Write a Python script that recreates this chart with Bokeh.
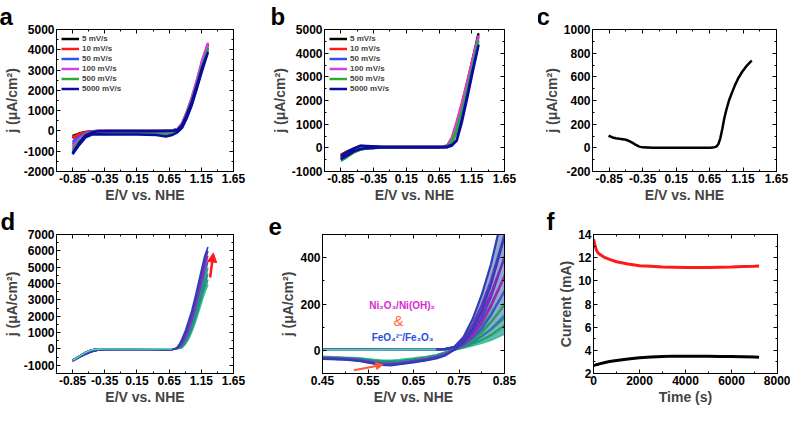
from bokeh.plotting import figure
from bokeh.layouts import row, column
from bokeh.models import (Range1d, FixedTicker, LinearAxis, Legend, LegendItem, Label,
                          Arrow, NormalHead, CustomJSTickFormatter)
from bokeh.embed import file_html
from bokeh.resources import INLINE

FONT = "Liberation Sans"

# ---------------- data ----------------
# panels a, b : CV loops at several scan rates (forward / reverse sampled on E_grid)
E_grid = [-0.85, -0.75, -0.65, -0.55, -0.45, -0.25, 0.15, 0.45, 0.6, 0.7, 0.78, 0.85, 0.92, 1.0, 1.08, 1.16, 1.25]
rates = ["5 mV/s", "10 mV/s", "50 mV/s", "100 mV/s", "500 mV/s", "5000 mV/s"]
rate_colors = ["#000000", "#ff1a1a", "#3050f0", "#d040e8", "#2fa83a", "#0a0aa0"]

a_fwd = [
    [-250, -130, -50, -10, 0, 10, 10, 10, 15, 25, 80, 330, 850, 1550, 2400, 3350, 4250],
    [-300, -150, -60, -15, 0, 10, 10, 10, 15, 25, 90, 360, 880, 1600, 2450, 3400, 4250],
    [-550, -300, -120, -30, 0, 10, 10, 10, 15, 25, 80, 320, 820, 1500, 2350, 3250, 4050],
    [-750, -400, -150, -40, 0, 10, 10, 10, 15, 25, 90, 370, 900, 1630, 2500, 3450, 4300],
    [-950, -500, -180, -50, -10, 0, 0, 0, 5, 15, 60, 300, 800, 1480, 2300, 3200, 4000],
    [-1100, -600, -220, -70, -20, -10, -10, -10, 0, 10, 50, 280, 760, 1420, 2230, 3100, 3850],
]
a_rev = [
    [-330, -170, -80, -40, -30, -40, -40, -40, -50, -40, 20, 250, 750, 1450, 2300, 3250, 4250],
    [-380, -200, -100, -60, -50, -60, -60, -60, -70, -60, 10, 260, 760, 1450, 2300, 3270, 4250],
    [-650, -380, -180, -100, -90, -100, -100, -110, -120, -100, -10, 220, 700, 1380, 2200, 3120, 4050],
    [-850, -480, -220, -110, -100, -110, -110, -120, -130, -110, -10, 250, 760, 1450, 2320, 3300, 4300],
    [-1050, -600, -270, -140, -130, -140, -140, -150, -160, -140, -40, 180, 650, 1300, 2150, 3050, 4000],
    [-1150, -700, -320, -180, -160, -170, -170, -200, -270, -200, -60, 150, 600, 1250, 2080, 2950, 3850],
]
b_fwd = [
    [-300, -150, -20, 80, 70, 40, 30, 30, 30, 35, 80, 380, 950, 1750, 2700, 3700, 4800],
    [-320, -170, -40, 60, 60, 40, 30, 30, 30, 40, 110, 450, 1100, 1900, 2800, 3700, 4650],
    [-400, -220, -60, 50, 60, 40, 30, 30, 30, 35, 70, 320, 850, 1600, 2500, 3400, 4350],
    [-420, -230, -60, 50, 60, 40, 30, 30, 30, 40, 100, 420, 1050, 1850, 2750, 3700, 4700],
    [-450, -250, -70, 40, 55, 40, 30, 30, 30, 35, 60, 300, 800, 1550, 2450, 3450, 4500],
    [-350, -180, -30, 90, 80, 45, 35, 30, 30, 35, 60, 130, 330, 1200, 2200, 3250, 4300],
]
b_rev = [
    [-380, -250, -120, -40, -10, 10, 15, 15, 15, 20, 40, 250, 800, 1600, 2550, 3600, 4800],
    [-420, -280, -140, -50, -15, 10, 15, 15, 15, 20, 60, 320, 900, 1700, 2650, 3600, 4650],
    [-500, -330, -170, -60, -20, 10, 15, 15, 15, 20, 40, 220, 700, 1450, 2350, 3300, 4350],
    [-520, -350, -180, -60, -20, 10, 15, 15, 15, 20, 55, 300, 880, 1680, 2600, 3550, 4700],
    [-550, -380, -190, -70, -25, 5, 15, 15, 15, 20, 35, 200, 680, 1420, 2300, 3350, 4500],
    [-480, -320, -150, -50, -15, 10, 15, 15, 15, 20, 30, 100, 300, 1100, 2100, 3150, 4300],
]

# panel c : single LSV curve
E_c = [-0.86, -0.8, -0.75, -0.7, -0.65, -0.6, -0.55, -0.5, -0.45, -0.4, -0.35, -0.2, 0.15, 0.45,
       0.65, 0.7, 0.75, 0.78, 0.81, 0.84, 0.87, 0.9, 0.94, 0.98, 1.03, 1.08, 1.14, 1.2, 1.25, 1.28]
j_c = [102, 88, 81, 76, 72, 68, 57, 42, 24, 10, 4, 0, 0, 0,
       1, 2, 10, 30, 80, 160, 250, 320, 400, 460, 530, 590, 645, 690, 720, 738]

# panels d, e : repeated cycles
E_lo_fwd = [-0.85, -0.8, -0.75, -0.7, -0.65, -0.6, -0.55, -0.5, -0.45, -0.35, -0.15, 0.15, 0.45, 0.55, 0.65, 0.70]
j_lo_fwd = [-700, -580, -450, -330, -215, -125, -62, -26, -9, -2, 0, 2, 3, 3, 4, 4]
E_rise = [0.72, 0.74, 0.76, 0.78, 0.80, 0.82, 0.85, 0.90, 0.95, 1.00, 1.05, 1.10, 1.15, 1.20, 1.25]
cyc_fwd = [
    [5, 9, 18, 30, 44, 60, 92, 320, 640, 1080, 1600, 2200, 2850, 3450, 3900],
    [5, 10, 22, 40, 62, 88, 140, 400, 760, 1250, 1820, 2450, 3120, 3750, 4200],
    [5, 10, 26, 52, 82, 122, 195, 480, 880, 1400, 2020, 2700, 3420, 4060, 4550],
    [5, 11, 30, 63, 105, 158, 255, 570, 1010, 1560, 2220, 2950, 3700, 4400, 4900],
    [5, 12, 35, 76, 130, 196, 320, 670, 1150, 1730, 2430, 3200, 4000, 4750, 5300],
    [5, 13, 41, 92, 160, 245, 400, 790, 1320, 1920, 2650, 3460, 4300, 5100, 5650],
    [5, 14, 48, 110, 196, 300, 500, 930, 1500, 2130, 2880, 3700, 4550, 5400, 5950],
    [6, 15, 58, 135, 240, 370, 620, 1100, 1700, 2320, 3100, 3950, 4800, 5650, 6200],
]
cyc_rev = [
    [-8, 3, 12, 21, 32, 45, 72, 280, 590, 1020, 1540, 2150, 2800, 3420, 3900],
    [-10, 3, 14, 28, 45, 66, 108, 350, 700, 1180, 1750, 2390, 3070, 3720, 4200],
    [-12, 3, 17, 36, 60, 92, 150, 420, 810, 1320, 1940, 2630, 3360, 4020, 4550],
    [-14, 3, 20, 44, 76, 120, 200, 500, 930, 1470, 2130, 2870, 3640, 4360, 4900],
    [-16, 3, 23, 53, 95, 150, 255, 590, 1060, 1630, 2330, 3110, 3930, 4700, 5300],
    [-18, 3, 27, 64, 117, 187, 320, 700, 1220, 1810, 2540, 3360, 4220, 5040, 5650],
    [-20, 3, 31, 77, 143, 228, 400, 830, 1390, 2010, 2760, 3590, 4460, 5330, 5950],
    [-22, 4, 36, 92, 172, 280, 490, 980, 1580, 2190, 2970, 3830, 4700, 5580, 6200],
]
E_lo_rev = [0.70, 0.68, 0.65, 0.62, 0.60, 0.58, 0.56, 0.53, 0.50, 0.45, 0.35, 0.15, -0.15, -0.35, -0.45, -0.55, -0.65, -0.75, -0.85]
cyc_lo_rev = [
    [-20, -27, -35, -41, -44, -43, -40, -34, -31, -27, -26, -25, -25, -30, -50, -130, -270, -450, -650],
    [-23, -30, -39, -46, -48, -47, -43, -36, -33, -29, -27, -26, -26, -31, -53, -136, -281, -462, -668],
    [-24, -33, -41, -49, -52, -50, -45, -38, -34, -31, -28, -27, -27, -32, -54, -141, -287, -471, -679],
    [-27, -34, -43, -51, -55, -53, -47, -40, -36, -31, -29, -28, -28, -33, -57, -146, -297, -482, -697],
    [-28, -37, -45, -54, -57, -56, -50, -41, -36, -33, -30, -29, -29, -34, -58, -150, -305, -491, -712],
    [-31, -38, -48, -57, -60, -59, -52, -43, -37, -34, -31, -30, -30, -35, -61, -156, -313, -502, -726],
    [-32, -41, -49, -58, -62, -61, -54, -44, -39, -35, -32, -31, -31, -36, -62, -160, -321, -511, -741],
    [-35, -42, -52, -60, -65, -63, -56, -46, -40, -37, -33, -32, -32, -37, -64, -166, -329, -522, -760],
]
cyc_colors = ["#3cc0a0", "#22a060", "#1f86a8", "#2aa35a", "#3b56d0", "#a028b0", "#6a2fc0", "#2d3fb5"]
bundle_color = "#3a64a8"
flat_color = "#5cd0b0"

# panel f : chronoamperometry
t_f = [0, 50, 100, 150, 200, 300, 500, 700, 1000, 1500, 2000, 2500, 3000, 3500, 4000, 4500, 5000, 5500, 6000, 6500, 7000, 7200]
i_red = [13.6, 13.2, 12.8, 12.55, 12.4, 12.25, 12.0, 11.85, 11.65, 11.45, 11.3, 11.25, 11.2, 11.18, 11.15, 11.15, 11.16, 11.18, 11.2, 11.23, 11.26, 11.28]
i_black = [2.7, 2.72, 2.75, 2.78, 2.8, 2.85, 2.95, 3.03, 3.12, 3.25, 3.35, 3.42, 3.47, 3.5, 3.5, 3.49, 3.48, 3.47, 3.46, 3.44, 3.42, 3.4]

# ticks
E_ticks = [-0.85, -0.35, 0.15, 0.65, 1.15, 1.65]
E_tick_labels = ["-0.85", "-0.35", "0.15", "0.65", "1.15", "1.65"]
E_minor = [-1.1, -0.6, -0.1, 0.4, 0.9, 1.4]
e_ticks = [0.45, 0.55, 0.65, 0.75, 0.85]
e_tick_labels = ["0.45", "0.55", "0.65", "0.75", "0.85"]
e_minor = [0.5, 0.6, 0.7, 0.8]

# annotations
arrow_d = dict(x0=1.287, y0=4370, x1=1.337, y1=5870)
arrow_e = dict(x0=0.519, y0=-86, x1=0.583, y1=-62)
e_texts = [("Ni\u2082O\u2083/Ni(OH)\u2082", 0.625, 192, "#d42ad4", "10px", "bold"),
           ("&", 0.617, 130, "#ff6a3d", "15px", "normal"),
           ("FeO\u2084\u00b2\u207b/Fe\u2082O\u2083", 0.626, 55, "#2a4de0", "10px", "bold")]

# ---------------- helpers ----------------
def make_fig(w, h, xr, yr, borders, letter, letter_dx):
    l, r, t, b = borders
    p = figure(width=w, height=h, x_range=Range1d(*xr), y_range=Range1d(*yr),
               output_backend="svg", toolbar_location=None,
               min_border_left=l, min_border_right=r, min_border_top=t, min_border_bottom=b)
    p.grid.visible = False
    p.outline_line_color = "black"
    p.title.text = letter
    p.title.align = "left"
    p.title.offset = letter_dx
    p.title.standoff = 0
    p.title.text_font = FONT
    p.title.text_font_size = "24px"
    p.title.text_font_style = "bold"
    p.title.text_color = "black"
    p.title.vertical_align = "bottom"
    return p


def style(p, xt, xm, xl, yt, ym, yl, xlab, ylab):
    xtk = FixedTicker(ticks=xt, minor_ticks=xm)
    ytk = FixedTicker(ticks=yt, minor_ticks=ym)
    for ax, tk, labs, lab in ((p.xaxis[0], xtk, xl, xlab), (p.yaxis[0], ytk, yl, ylab)):
        ax.ticker = tk
        ax.major_label_overrides = {v: s for v, s in zip(tk.ticks, labs)}
        ax.major_label_text_font = FONT
        ax.major_label_text_font_style = "bold"
        ax.major_label_text_font_size = "12px"
        ax.major_label_text_color = "black"
        ax.axis_label = lab
        ax.axis_label_text_font = FONT
        ax.axis_label_text_font_style = "bold"
        ax.axis_label_text_font_size = "14px"
        ax.axis_label_standoff = 1
        ax.major_label_standoff = 2
        ax.major_tick_in = 4
        ax.major_tick_out = 0
        ax.minor_tick_in = 2
        ax.minor_tick_out = 0
        ax.axis_line_color = "black"
    for loc, tk in (("above", xtk), ("right", ytk)):
        ax = LinearAxis(ticker=tk, formatter=CustomJSTickFormatter(code="return ''"),
                        major_label_text_font_size="0px", major_label_standoff=0,
                        major_tick_in=4, major_tick_out=0, minor_tick_in=2, minor_tick_out=0,
                        axis_line_color="black")
        p.add_layout(ax, loc)


def legend(p, items):
    lg = Legend(items=items, location="top_left", label_text_font=FONT, label_text_font_size="8px",
                label_text_font_style="bold", glyph_width=18, glyph_height=9, label_height=9,
                spacing=1, padding=1, margin=5, label_standoff=3,
                border_line_color=None, background_fill_alpha=0)
    p.add_layout(lg)


Y_LABEL = "j (\u03bcA/cm\u00b2)"
X_LABEL = "E/V vs. NHE"
H1, H2 = 205, 202

# ---------------- panel a ----------------
pa = make_fig(268, H1, (-1.1, 1.65), (-2000, 5000), (51, 35, 15, 32), "a", -57)
style(pa, E_ticks, E_minor, E_tick_labels, list(range(-2000, 5001, 1000)),
      list(range(-1500, 5000, 1000)), [str(v) for v in range(-2000, 5001, 1000)], X_LABEL, Y_LABEL)
items = []
for name, col, fw, rv in zip(rates, rate_colors, a_fwd, a_rev):
    r = pa.line(E_grid + E_grid[::-1], fw + rv[::-1], line_color=col, line_width=2.5, line_join="round")
    items.append(LegendItem(label=name, renderers=[r]))
legend(pa, items)

# ---------------- panel b ----------------
pb = make_fig(270, H1, (-1.1, 1.65), (-1000, 5000), (54, 34, 24, 32), "b", -54)
style(pb, E_ticks, E_minor, E_tick_labels, list(range(-1000, 5001, 1000)),
      list(range(-500, 5000, 1000)), [str(v) for v in range(-1000, 5001, 1000)], X_LABEL, Y_LABEL)
items = []
for name, col, fw, rv in zip(rates, rate_colors, b_fwd, b_rev):
    r = pb.line(E_grid + E_grid[::-1], fw + rv[::-1], line_color=col, line_width=2.5, line_join="round")
    items.append(LegendItem(label=name, renderers=[r]))
legend(pb, items)

# ---------------- panel c ----------------
pc = make_fig(252, H1, (-1.1, 1.65), (-200, 1000), (54, 14, 18, 32), "c", -56)
style(pc, E_ticks, E_minor, E_tick_labels, list(range(-200, 1001, 200)),
      list(range(-100, 1000, 200)), [str(v) for v in range(-200, 1001, 200)], X_LABEL, Y_LABEL)
pc.line(E_c, j_c, line_color="black", line_width=2.5, line_join="round")

# ---------------- panel d ----------------
pd_ = make_fig(268, H2, (-1.1, 1.65), (-1500, 7000), (51, 35, 22, 31), "d", -56)
style(pd_, E_ticks, E_minor, E_tick_labels, list(range(-1000, 7001, 1000)),
      list(range(-1500, 7000, 1000)), [str(v) for v in range(-1000, 7001, 1000)], X_LABEL, Y_LABEL)
# ---------------- panel e ----------------
pe = make_fig(270, H2, (0.45, 0.85), (-100, 500), (54, 34, 22, 31), "e", -54)
style(pe, e_ticks, e_minor, e_tick_labels, [0, 200, 400], [-100, 100, 300, 500],
      ["0", "200", "400"], X_LABEL, Y_LABEL)

for p in (pd_, pe):
    p.varea(x=E_rise, y1=cyc_rev[0], y2=cyc_fwd[-1], fill_color=bundle_color, fill_alpha=0.55)
    p.varea(x=E_lo_rev, y1=cyc_lo_rev[-1], y2=cyc_lo_rev[0], fill_color=bundle_color, fill_alpha=0.55)

for col, fw, rv, lo in zip(cyc_colors, cyc_fwd, cyc_rev, cyc_lo_rev):
    xs = E_lo_fwd + E_rise + E_rise[::-1] + E_lo_rev
    ys = j_lo_fwd + fw + rv[::-1] + lo
    pd_.line(xs, ys, line_color=col, line_width=1.6, line_join="round")
    pe.line(xs, ys, line_color=col, line_width=2.2, line_join="round")
pd_.line(E_lo_fwd, j_lo_fwd, line_color=flat_color, line_width=1.6)
pe.line(E_lo_fwd, j_lo_fwd, line_color=flat_color, line_width=2)

pd_.add_layout(Arrow(end=NormalHead(size=9, fill_color="#ff1a1a", line_color="#ff1a1a"),
                     x_start=arrow_d["x0"], y_start=arrow_d["y0"], x_end=arrow_d["x1"], y_end=arrow_d["y1"],
                     line_color="#ff1a1a", line_width=2.5))

pe.add_layout(Arrow(end=NormalHead(size=7, fill_color="#ff5a36", line_color="#ff5a36"),
                    x_start=arrow_e["x0"], y_start=arrow_e["y0"], x_end=arrow_e["x1"], y_end=arrow_e["y1"],
                    line_color="#ff5a36", line_width=2))
for txt, x, y, col, fs, st in e_texts:
    pe.add_layout(Label(x=x, y=y, text=txt, text_align="center", text_baseline="middle",
                        text_color=col, text_font=FONT, text_font_size=fs, text_font_style=st))

# ---------------- panel f ----------------
pf = make_fig(252, H2, (0, 8000), (2, 14), (55, 13, 22, 31), "f", -47)
style(pf, [0, 2000, 4000, 6000, 8000], [1000, 3000, 5000, 7000], ["0", "2000", "4000", "6000", "8000"],
      [2, 4, 6, 8, 10, 12, 14], [3, 5, 7, 9, 11, 13], ["2", "4", "6", "8", "10", "12", "14"],
      "Time (s)", "Current (mA)")
pf.line(t_f, i_red, line_color="#ff1a1a", line_width=3)
pf.line(t_f, i_black, line_color="black", line_width=3)

layout = column(row(pa, pb, pc), row(pd_, pe, pf))
open("out.html", "w").write(file_html(layout, INLINE))
